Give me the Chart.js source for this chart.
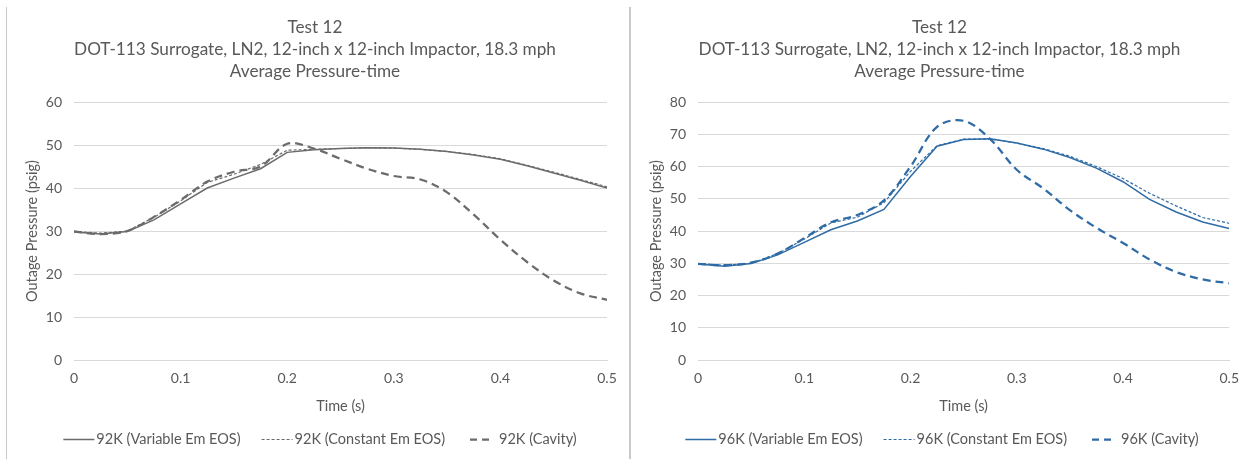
<!DOCTYPE html>
<html>
<head>
<meta charset="utf-8">
<script src="https://cdn.jsdelivr.net/npm/chart.js@4.4.1/dist/chart.umd.min.js"></script>
<style>
  html, body { margin: 0; padding: 0; background: #fff; }
  #wrap { position: relative; width: 1249px; height: 459px; background: #fff; overflow: hidden; }
  canvas { position: absolute; top: 0; }
  #c1 { left: 7px; }
  #c2 { left: 631px; }
  .rule { position: absolute; top: 7px; width: 1px; height: 452px; background: #c9c9c9; }
</style>
</head>
<body>
<div id="wrap">
  <div class="rule" style="left:6px"></div>
  <div class="rule" style="left:629px;width:2px"></div>
  <canvas id="c1" width="622" height="459"></canvas>
  <canvas id="c2" width="618" height="459"></canvas>
</div>
<script>
// time (s)
var timeVals = [0, 0.025, 0.05, 0.075, 0.1, 0.125, 0.15, 0.175, 0.2, 0.225, 0.25,
                0.275, 0.3, 0.325, 0.35, 0.375, 0.4, 0.425, 0.45, 0.475, 0.5];

// left chart - 92K
var var92  = [29.8, 29.3, 29.9, 32.6, 36.3, 40.0, 42.3, 44.5, 48.3, 48.9, 49.2,
              49.4, 49.3, 49.0, 48.5, 47.7, 46.7, 45.2, 43.5, 41.8, 40.0];
var const92 = [29.9, 29.5, 30.0, 33.2, 37.0, 41.3, 43.2, 45.5, 48.8, 49.0, 49.2,
               49.4, 49.3, 49.0, 48.5, 47.8, 46.8, 45.3, 43.7, 42.0, 40.3];
var cav92  = [29.9, 29.3, 30.0, 33.3, 37.2, 41.5, 43.8, 45.0, 50.3, 49.2, 46.8,
              44.5, 42.8, 42.0, 39.0, 33.8, 28.0, 22.8, 18.5, 15.5, 14.0];

// right chart - 96K
var var96  = [29.8, 29.1, 29.9, 32.6, 36.5, 40.4, 43.1, 46.7, 56.9, 66.3, 68.4,
              68.6, 67.3, 65.4, 62.8, 59.5, 55.3, 49.8, 45.9, 42.8, 40.8];
var const96 = [29.9, 29.4, 30.0, 33.0, 37.5, 42.5, 44.3, 48.8, 58.5, 66.5, 68.5,
               68.5, 67.3, 65.6, 63.2, 60.0, 56.3, 51.7, 47.8, 44.2, 42.4];
var cav96  = [29.8, 29.4, 30.2, 33.0, 37.8, 42.7, 45.0, 49.5, 60.0, 72.3, 74.2,
              68.5, 59.0, 53.2, 46.5, 41.0, 36.3, 31.2, 27.3, 25.0, 23.8];

var titleLines = ["Test 12", "DOT-113 Surrogate, LN2, 12-inch x 12-inch Impactor, 18.3 mph", "Average Pressure-time"];
var xTitle = "Time (s)";
var yTitle = "Outage Pressure (psig)";

var txt = "#595959";
var gridCol = "#d9d9d9";
var fam = "Lato, 'Open Sans', sans-serif";

function pts(ys) {
  var out = [];
  for (var i = 0; i < timeVals.length; i++) out.push({x: timeVals[i], y: ys[i]});
  return out;
}

// legend drawn under the plot, line samples keep each dataset's dash
var lineLegend = {
  id: "lineLegend",
  afterDraw: function(chart) {
    var ctx = chart.ctx;
    var sets = chart.data.datasets;
    var sample = 31, gapTxt = 2, gapItem = 21, y = 439;
    ctx.save();
    ctx.font = "14.5px " + fam;
    var total = 0;
    for (var i = 0; i < sets.length; i++) {
      total += sample + gapTxt + ctx.measureText(sets[i].label).width;
      if (i < sets.length - 1) total += gapItem;
    }
    var x = chart.width / 2 - total / 2 + 2;
    for (var i = 0; i < sets.length; i++) {
      var d = sets[i];
      ctx.beginPath();
      ctx.strokeStyle = d.borderColor;
      ctx.lineWidth = d.borderWidth;
      ctx.setLineDash(d.legendDash || d.borderDash || []);
      ctx.moveTo(x, y + 0.5);
      ctx.lineTo(x + sample, y + 0.5);
      ctx.stroke();
      x += sample + gapTxt;
      ctx.fillStyle = txt;
      ctx.textBaseline = "middle";
      ctx.fillText(d.label, x, y);
      x += ctx.measureText(d.label).width + gapItem;
    }
    ctx.restore();
  }
};

function makeChart(id, label, color, ys, yMax, pad, yWidth, yTitlePad) {
  new Chart(document.getElementById(id), {
    type: "line",
    data: {
      datasets: [
        {label: label + " (Variable Em EOS)", data: pts(ys[0]), borderColor: color, backgroundColor: color,
         borderWidth: 1.5, pointRadius: 0, tension: 0},
        {label: label + " (Constant Em EOS)", data: pts(ys[1]), borderColor: color, backgroundColor: color,
         borderWidth: 1.2, borderDash: [3, 2], pointRadius: 0, tension: 0},
        {label: label + " (Cavity)", data: pts(ys[2]), borderColor: color, backgroundColor: color,
         borderWidth: 2.25, borderDash: [8, 5], legendDash: [0, 4, 7, 5, 7, 8], pointRadius: 0, tension: 0.35}
      ]
    },
    options: {
      responsive: false,
      animation: false,
      layout: {padding: {left: pad[0], right: pad[1], bottom: 44}},
      plugins: {
        title: {display: true, text: titleLines, color: txt,
                font: {family: fam, size: 17.2, weight: "normal", lineHeight: 1.3},
                padding: {top: 16, bottom: 19}},
        legend: {display: false},
        tooltip: {enabled: false}
      },
      scales: {
        x: {type: "linear", min: 0, max: 0.5,
            ticks: {stepSize: 0.1, color: txt, font: {family: fam, size: 14}, padding: 10},
            grid: {display: false, drawTicks: false},
            border: {display: true, color: gridCol},
            title: {display: true, text: xTitle, color: txt, font: {family: fam, size: 14.5}, padding: {top: 0, bottom: 0}},
            afterFit: function(s) { s.height = 55; }},
        y: {min: 0, max: yMax,
            ticks: {stepSize: 10, color: txt, font: {family: fam, size: 14}, padding: 12},
            grid: {color: gridCol, drawTicks: false},
            border: {display: false},
            title: {display: true, text: yTitle, color: txt, font: {family: fam, size: 14.5}, padding: {top: yTitlePad, bottom: 0}},
            afterFit: function(s) { s.width = yWidth; }}
      }
    },
    plugins: [lineLegend]
  });
}

makeChart("c1", "92K", "#6b6b6b", [var92, const92, cav92], 60, [16, 22], 51, 1);
makeChart("c2", "96K", "#2f6ba5", [var96, const96, cav96], 80, [17, 18], 50, 0);
</script>
</body>
</html>
